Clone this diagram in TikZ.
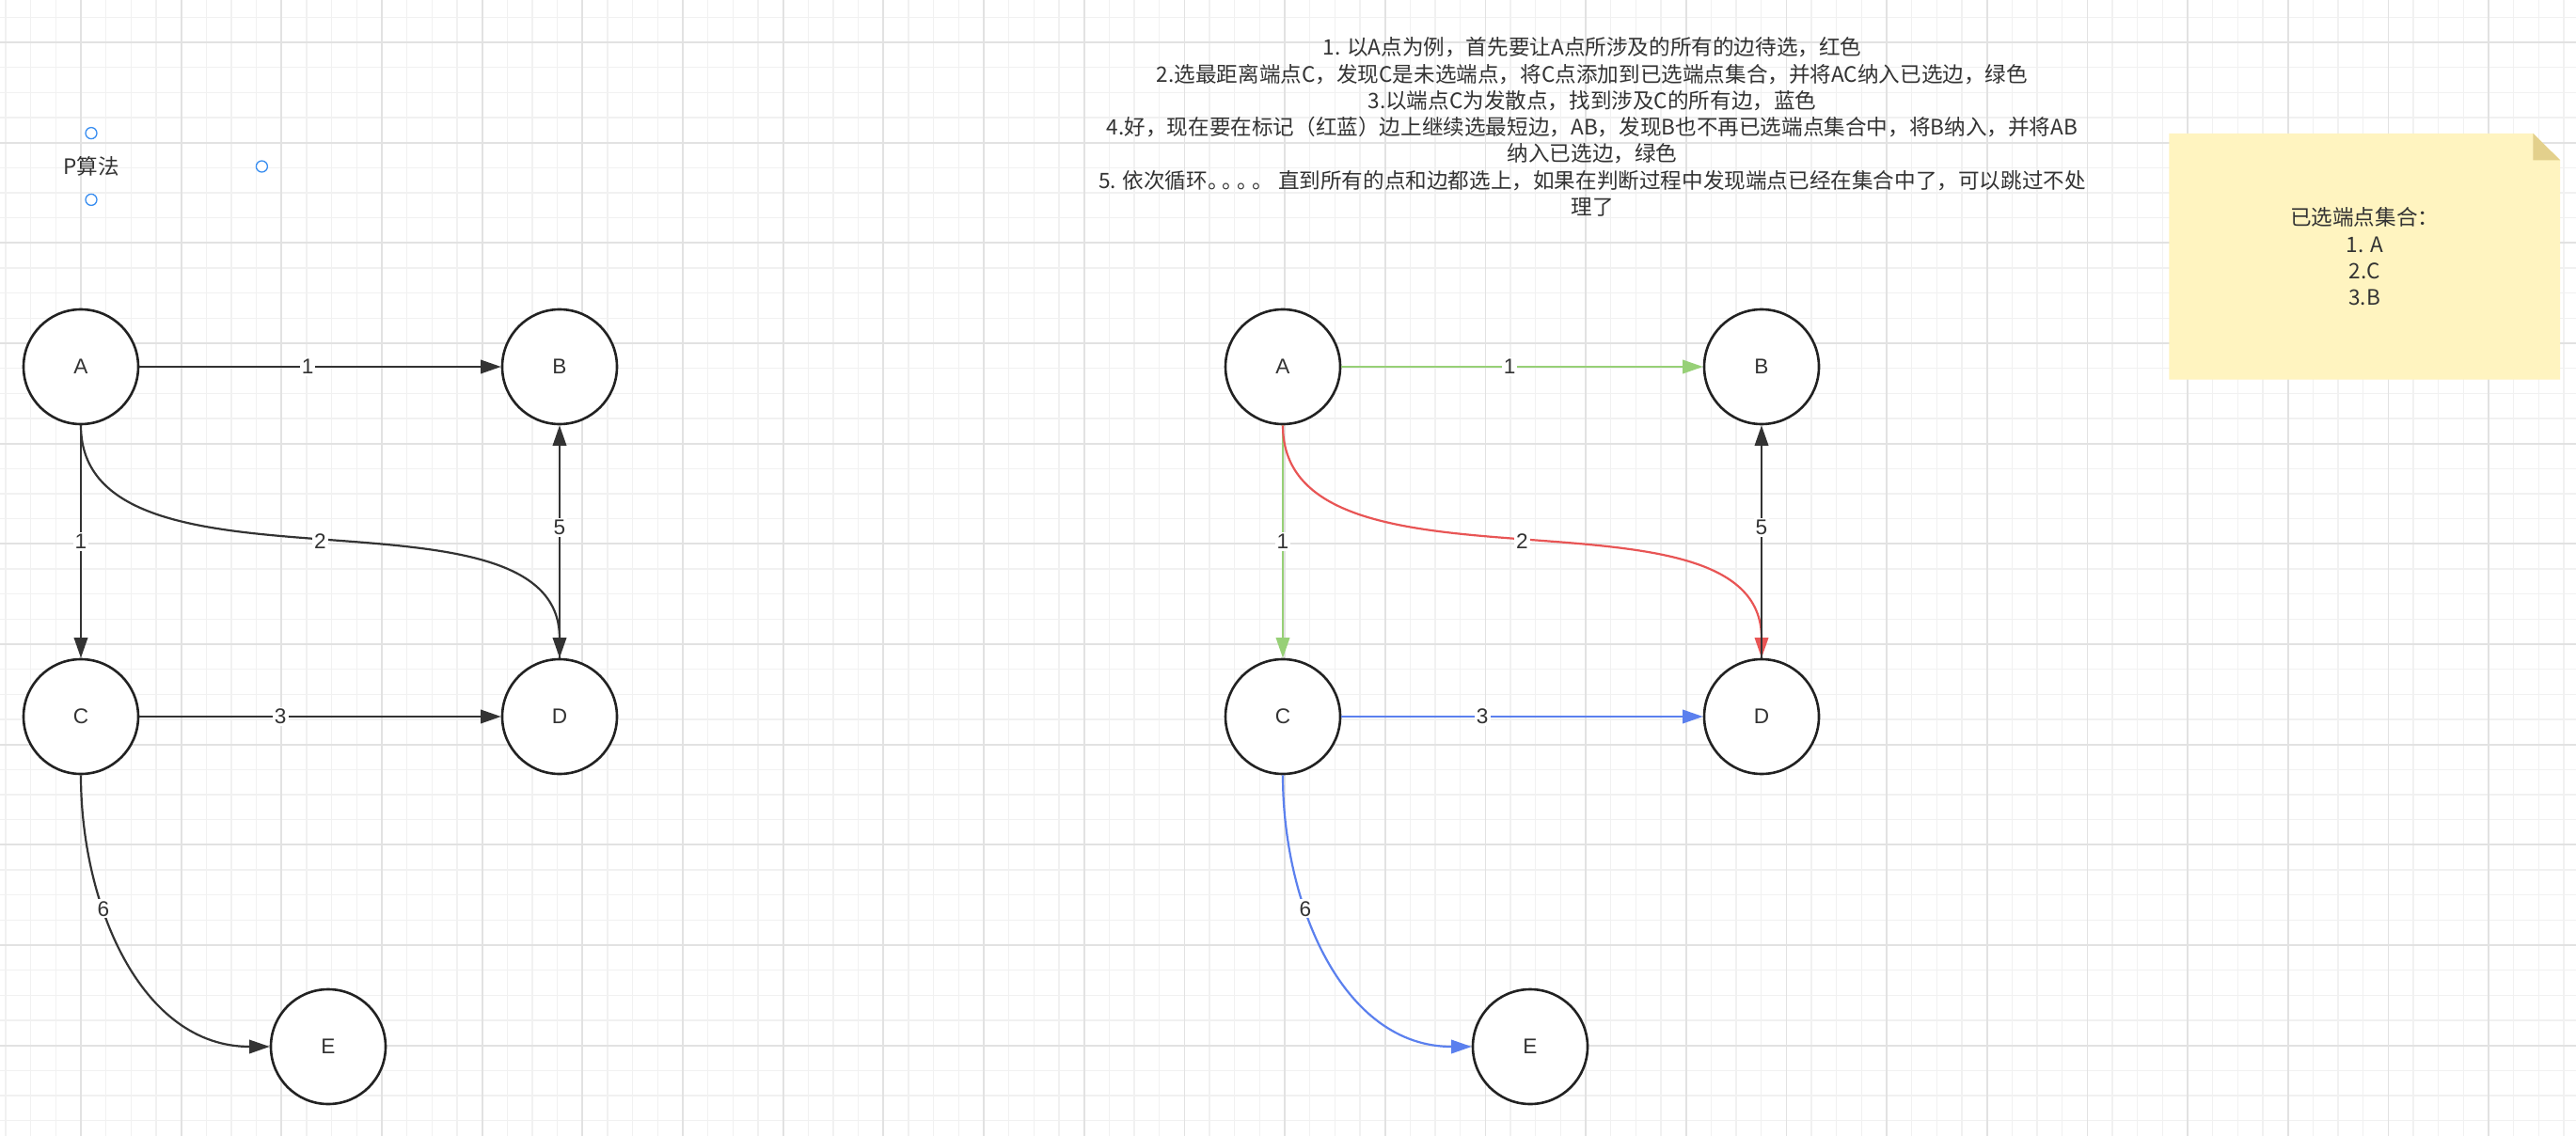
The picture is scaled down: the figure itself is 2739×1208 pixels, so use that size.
\documentclass[tikz,border=0pt]{standalone}
\usepackage{fontspec}
\setmainfont{Liberation Sans}
\newfontfamily\cjk{Noto Sans CJK SC}
\usepackage{xcolor}
\usepackage{tikz}
\usetikzlibrary{shapes,arrows.meta,positioning,calc}

\definecolor{inkdark}{HTML}{333333}
\definecolor{ringdark}{HTML}{222222}
\definecolor{pickgreen}{HTML}{97D077}
\definecolor{pickred}{HTML}{E85555}
\definecolor{pickblue}{HTML}{5B80EE}
\definecolor{gridminor}{HTML}{F1F1F1}
\definecolor{gridmajor}{HTML}{E2E2E2}
\definecolor{notefill}{HTML}{FFF4C0}
\definecolor{notefold}{HTML}{E3D08C}
\definecolor{handleblue}{HTML}{3A8EF0}

\begin{document}
\begin{tikzpicture}[x=0.5pt, y=0.5pt, on grid, >={Triangle[length=10.8pt,width=7.2pt]}]
    \tikzstyle{vertex} = [draw=ringdark, circle, minimum size=61pt, inner sep=0pt, line width=1.3pt, fill=white, text=inkdark, font=\fontsize{11.3}{13.5}\selectfont]
    \tikzstyle{wlabel} = [fill=white, inner sep=1pt, text=inkdark, font=\fontsize{11.3}{13.5}\selectfont]
    \tikzstyle{link} = [->, line width=1.1pt, color=inkdark]
    \tikzstyle{cjktext} = [align=center, text=inkdark, font=\cjk\fontsize{11.3}{14.15}\selectfont]
    \tikzstyle{handle} = [draw=handleblue, fill=white, circle, minimum size=6pt, inner sep=0pt, line width=0.65pt]

    \useasboundingbox (0,0) rectangle (2739,-1208);
    \fill[white] (0,0) rectangle (2739,-1208);
    \foreach \i in {0,...,102} \draw[gridminor, line width=0.65pt] ({6+26.6667*\i},0) -- ++(0,-1208);
    \foreach \j in {0,...,44} \draw[gridminor, line width=0.65pt] (0,{-18.33-26.6667*\j}) -- ++(2739,0);
    \foreach \i in {0,...,25} \draw[gridmajor, line width=0.85pt] ({86+106.6667*\i},0) -- ++(0,-1208);
    \foreach \j in {0,...,10} \draw[gridmajor, line width=0.85pt] (0,{-45-106.6667*\j}) -- ++(2739,0);

    \node [cjktext, minimum width=181pt, minimum height=35pt] (title) at (97,-177) {P算法};
    \node [handle] (h1) at (title.north) {};
    \node [handle] (h2) at (title.south) {};
    \node [handle] (h3) at (title.east) {};

    \node [cjktext] (steps) at (1693,-135) {1. 以A点为例，首先要让A点所涉及的所有的边待选，红色\\2.选最距离端点C，发现C是未选端点，将C点添加到已选端点集合，并将AC纳入已选边，绿色\\3.以端点C为发散点，找到涉及C的所有边，蓝色\\4.好，现在要在标记（红蓝）边上继续选最短边，AB，发现B也不再已选端点集合中，将B纳入，并将AB\\纳入已选边，绿色\\5. 依次循环。\kern-.3em。\kern-.3em。\kern-.3em。{} 直到所有的点和边都选上，如果在判断过程中发现端点已经在集合中了，可以跳过不处\\理了};

    \node [minimum width=207.5pt, minimum height=130.5pt, inner sep=0pt] (note) at (2514.2,-272.8) {};
    \fill [notefill] (note.south west) -- (note.north west) -- ([xshift=-14.35pt]note.north east) -- ([yshift=-14.2pt]note.north east) -- (note.south east) -- cycle;
    \fill [notefold] ([xshift=-14.35pt]note.north east) -- ([xshift=-14.35pt,yshift=-14.2pt]note.north east) -- ([yshift=-14.2pt]note.north east) -- cycle;
    \node [cjktext] (chosen) at (note.center) {已选端点集合：\\1. A\\2.C\\3.B};

    \node [vertex] (a1) at (86,-390) {A};
    \node [vertex, right=254.5pt of a1] (b1) {B};
    \node [vertex, below=186pt of a1] (c1) {C};
    \node [vertex, below=186pt of b1] (d1) {D};
    \node [vertex, below right=175.5pt and 131.5pt of c1] (e1) {E};

    \node [vertex, right=639pt of a1] (a2) {A};
    \node [vertex, right=254.5pt of a2] (b2) {B};
    \node [vertex, below=186pt of a2] (c2) {C};
    \node [vertex, below=186pt of b2] (d2) {D};
    \node [vertex, below right=175.5pt and 131.5pt of c2] (e2) {E};

    \draw [link] (a1) -- node[wlabel, pos=0.465] {1} (b1);
    \draw [link] (a1) -- node[wlabel] {1} (c1);
    \draw [link] (a1) to[out=-90, in=90, looseness=0.9] node[wlabel] {2} (d1);
    \draw [link] (c1) -- node[wlabel, pos=0.39] {3} (d1);
    \draw [link] (d1) -- node[wlabel, pos=0.56] {5} (b1);
    \draw [link] (c1) to[out=-90, in=180] node[wlabel, pos=0.35] {6} (e1);

    \draw [link, color=pickgreen] (a2) -- node[wlabel, pos=0.465] {1} (b2);
    \draw [link, color=pickgreen] (a2) -- node[wlabel] {1} (c2);
    \draw [link, color=pickred] (a2) to[out=-90, in=90, looseness=0.9] node[wlabel] {2} (d2);
    \draw [link, color=pickblue] (c2) -- node[wlabel, pos=0.39] {3} (d2);
    \draw [link] (d2) -- node[wlabel, pos=0.56] {5} (b2);
    \draw [link, color=pickblue] (c2) to[out=-90, in=180] node[wlabel, pos=0.35] {6} (e2);
\end{tikzpicture}
\end{document}
